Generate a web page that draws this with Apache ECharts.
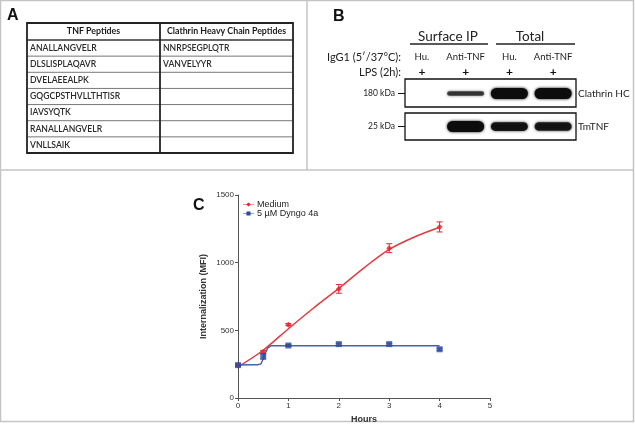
<!DOCTYPE html>
<html><head><meta charset="utf-8">
<script src="https://cdn.jsdelivr.net/npm/echarts@6/dist/echarts.min.js"></script>
<style>html,body{margin:0;padding:0;background:#fff}#c{width:635px;height:428px}</style>
</head><body><div id="c"></div>
<script>
// ---- Panel A data ----
const tableHeaders = ['TNF Peptides', 'Clathrin Heavy Chain Peptides'];
const tnfPeptides = ['ANALLANGVELR','DLSLISPLAQAVR','DVELAEEALPK','GQGCPSTHVLLTHTISR','IAVSYQTK','RANALLANGVELR','VNLLSAIK'];
const clathrinPeptides = ['NNRPSEGPLQTR','VANVELYYR'];
// ---- Panel B data ----
const laneLabels = ['Hu.','Anti-TNF','Hu.','Anti-TNF'];
const lpsLabels = ['+','+','+','+'];
const groupLabels = ['Surface IP','Total'];
const blotRows = ['Clathrin HC','TmTNF'];
const blotMarkers = ['180 kDa','25 kDa'];
const clathrinBand = [0, 0.3, 1, 1];
const tmtnfBand = [0, 1, 0.75, 0.72];
// ---- Panel C data ----
const hours = [0, 0.5, 1, 2, 3, 4];
const medium = [240, 340, 542, 806, 1107, 1264];
const mediumErr = [8, 12, 8, 32, 33, 37];
const dyngo = [243, 309, 388, 398, 398, 360];
const dyngoErr = [8, 22, 8, 8, 8, 8];
const mediumFitX = [0, 0.5, 1, 1.5, 2, 2.5, 3, 3.5, 4];
const mediumFitY = [230, 353, 512, 665, 810, 962, 1098, 1190, 1262];
const dyngoFitX = [0, 0.38, 0.45, 0.5, 0.55, 0.6, 0.66, 4];
const dyngoFitY = [244, 245, 252, 285, 340, 374, 386, 386];
const seriesNames = ['Medium', '5 µM Dyngo 4a'];

const RED = '#e3262b', BLUE = '#2e4aa0';
const chart = echarts.init(document.getElementById('c'));

// --- graphic elements: borders, table, blot frames ---
const g = [];
const border = '#c4c4c4';
g.push({type:'rect', shape:{x:0.5,y:0.5,width:633,height:421}, style:{fill:'none',stroke:border,lineWidth:1.5}});
g.push({type:'line', shape:{x1:307,y1:0,x2:307,y2:170}, style:{stroke:border,lineWidth:1.5}});
g.push({type:'line', shape:{x1:0,y1:170,x2:634,y2:170}, style:{stroke:border,lineWidth:1.5}});
const panelFont = 'Lato, "Open Sans", sans-serif';
[['A',7,8],['B',333,9],['C',193,198]].forEach(([t,x,y])=>{
  g.push({type:'text', x, y, style:{text:t, font:'bold 16px "Liberation Sans", Arial, sans-serif', fill:'#111'}});
});
// table
const tx0 = 27, tx1 = 160, tx2 = 293, ty0 = 23, ty1 = 40, ty2 = 153;
const nRows = tnfPeptides.length;
const rh = (ty2 - ty1) / nRows;
for (let i = 1; i < nRows; i++) {
  const y = ty1 + rh * i;
  g.push({type:'line', shape:{x1:tx0,y1:y,x2:tx2,y2:y}, style:{stroke:'#777',lineWidth:1}});
}
g.push({type:'line', shape:{x1:tx0,y1:ty1,x2:tx2,y2:ty1}, style:{stroke:'#333',lineWidth:1.3}});
g.push({type:'line', shape:{x1:tx1,y1:ty0,x2:tx1,y2:ty2}, style:{stroke:'#222',lineWidth:1.8}});
g.push({type:'rect', shape:{x:tx0,y:ty0,width:tx2-tx0,height:ty2-ty0}, style:{fill:'none',stroke:'#222',lineWidth:1.8}});
g.push({type:'text', x:(tx0+tx1)/2, y:(ty0+ty1)/2, style:{text:tableHeaders[0], font:'bold 8.8px '+panelFont, fill:'#1a1a1a', align:'center', verticalAlign:'middle'}});
g.push({type:'text', x:(tx1+tx2)/2, y:(ty0+ty1)/2, style:{text:tableHeaders[1], font:'bold 8.8px '+panelFont, fill:'#1a1a1a', align:'center', verticalAlign:'middle'}});
tnfPeptides.forEach((p,i)=>g.push({type:'text', x:tx0+3, y:ty1+rh*(i+0.5), style:{text:p, font:'600 8.6px '+panelFont, fill:'#2a2a2a', verticalAlign:'middle'}}));
clathrinPeptides.forEach((p,i)=>g.push({type:'text', x:tx1+3, y:ty1+rh*(i+0.5), style:{text:p, font:'600 8.6px '+panelFont, fill:'#2a2a2a', verticalAlign:'middle'}}));
// blot headers
[[groupLabels[0],448,410,488],[groupLabels[1],530,496,575]].forEach(([t,cx,a,b])=>{
  g.push({type:'text', x:cx, y:37, style:{text:t, font:'13.5px '+panelFont, fill:'#222', align:'center', verticalAlign:'middle'}});
  g.push({type:'line', shape:{x1:a,y1:44,x2:b,y2:44}, style:{stroke:'#222',lineWidth:1.3}});
});
g.push({type:'text', x:401, y:57, style:{text:'IgG1 (5′/37°C):', font:'11px '+panelFont, fill:'#222', align:'right', verticalAlign:'middle'}});
g.push({type:'text', x:401, y:72, style:{text:'LPS (2h):', font:'11px '+panelFont, fill:'#222', align:'right', verticalAlign:'middle'}});
g.push({type:'rect', shape:{x:405,y:79,width:171,height:28}, style:{fill:'none',stroke:'#111',lineWidth:1.3}});
g.push({type:'rect', shape:{x:405,y:113,width:171,height:27}, style:{fill:'none',stroke:'#111',lineWidth:1.3}});

// band data
const bandData = [];
clathrinBand.forEach((v,i)=>bandData.push([i,0,v]));
tmtnfBand.forEach((v,i)=>bandData.push([i,1,v]));

function errSeries(name, ys, es, color){
  return {
    type:'custom', name, xAxisIndex:0, yAxisIndex:0, z:4,
    data: hours.map((h,i)=>[h, ys[i], es[i]]),
    renderItem(params, api){
      const x = api.value(0), y = api.value(1), e = api.value(2);
      const t = api.coord([x, y+e]), b = api.coord([x, y-e]);
      const hw = 3, st = {stroke:color, lineWidth:1};
      return {type:'group', children:[
        {type:'line', shape:{x1:t[0],y1:t[1],x2:b[0],y2:b[1]}, style:st},
        {type:'line', shape:{x1:t[0]-hw,y1:t[1],x2:t[0]+hw,y2:t[1]}, style:st},
        {type:'line', shape:{x1:b[0]-hw,y1:b[1],x2:b[0]+hw,y2:b[1]}, style:st}
      ]};
    }
  };
}

const axisFont = '"Liberation Sans", Arial, sans-serif';
const iconRed = 'path://M0,2.5 L5,2.5 L8,0 L11,2.5 L16,2.5 L16,3.5 L11,3.5 L8,6 L5,3.5 L0,3.5 Z';
const iconBlue = 'path://M0,2.5 L5,2.5 L5,0 L11,0 L11,2.5 L16,2.5 L16,3.5 L11,3.5 L11,6 L5,6 L5,3.5 L0,3.5 Z';

chart.setOption({
  animation:false,
  graphic: g,
  legend: {
    orient:'vertical', left:238, top:195, itemWidth:11, itemHeight:5, itemGap:0,
    data:[{name:seriesNames[0], icon:iconRed},{name:seriesNames[1], icon:iconBlue}],
    textStyle:{fontSize:9, color:'#222', fontFamily:axisFont, padding:[0,0,0,-2]},
    selectedMode:false
  },
  grid: [
    {left:238, top:195, width:252, height:203},
    {left:400, top:77, width:175, height:66}
  ],
  xAxis: [
    {type:'value', gridIndex:0, min:0, max:5, interval:1,
     name:'Hours', nameLocation:'middle', nameGap:17,
     nameTextStyle:{fontSize:9, fontWeight:'bold', color:'#333', fontFamily:axisFont},
     axisLine:{lineStyle:{color:'#555', width:1}},
     axisTick:{length:3, lineStyle:{color:'#555'}},
     axisLabel:{fontSize:8, color:'#333', margin:4, fontFamily:axisFont},
     splitLine:{show:false}},
    {type:'category', gridIndex:1, data:laneLabels, position:'top',
     axisLine:{show:false}, axisTick:{show:false},
     axisLabel:{interval:0, margin:0,
       formatter:(v,i)=>'{a|'+v+'}\n{b|'+lpsLabels[i]+'}',
       rich:{a:{fontSize:9.5, lineHeight:20, color:'#222', fontFamily:panelFont},
             b:{fontSize:12, fontWeight:'bold', lineHeight:10, color:'#111', fontFamily:panelFont}}}}
  ],
  yAxis: [
    {type:'value', gridIndex:0, min:0, max:1500, interval:500,
     name:'Internalization (MFI)', nameLocation:'middle', nameGap:30, nameRotate:90,
     nameTextStyle:{fontSize:9, fontWeight:'bold', color:'#333', fontFamily:axisFont},
     axisLine:{show:true, lineStyle:{color:'#555', width:1}},
     axisTick:{show:true, length:3, lineStyle:{color:'#555'}},
     axisLabel:{fontSize:8, color:'#333', margin:4, fontFamily:axisFont, formatter:(v)=>String(v)},
     splitLine:{show:false}},
    {type:'category', gridIndex:1, data:blotMarkers, inverse:true, offset:-5,
     axisLine:{show:false},
     axisTick:{show:true, alignWithLabel:true, length:7, lineStyle:{color:'#111', width:1}},
     axisLabel:{fontSize:8.5, color:'#222', margin:10, fontFamily:panelFont}},
    {type:'category', gridIndex:1, data:blotRows, inverse:true, position:'right',
     axisLine:{show:false}, axisTick:{show:false},
     axisLabel:{fontSize:10, color:'#222', margin:3, fontFamily:panelFont}}
  ],
  series: [
    {type:'line', name:seriesNames[0], xAxisIndex:0, yAxisIndex:0,
     data: mediumFitX.map((x,i)=>[x, mediumFitY[i]]), smooth:0.3,
     showSymbol:false, symbol:'none', color:RED, lineStyle:{color:'#e8383d', width:1.5}, z:3},
    {type:'line', name:seriesNames[1], xAxisIndex:0, yAxisIndex:0,
     data: dyngoFitX.map((x,i)=>[x, dyngoFitY[i]]), smooth:0.4, smoothMonotone:'x',
     showSymbol:false, symbol:'none', color:BLUE, lineStyle:{color:'#4862aa', width:1.5}, z:3},
    errSeries('medium-err', medium, mediumErr, RED),
    errSeries('dyngo-err', dyngo, dyngoErr, BLUE),
    {type:'scatter', name:'medium-pts', xAxisIndex:0, yAxisIndex:0, symbol:'diamond', symbolSize:6,
     itemStyle:{color:RED}, data: hours.map((h,i)=>[h, medium[i]]), z:5},
    {type:'scatter', name:'dyngo-pts', xAxisIndex:0, yAxisIndex:0, symbol:'rect', symbolSize:6,
     itemStyle:{color:BLUE}, data: hours.map((h,i)=>[h, dyngo[i]]), z:5},
    {type:'custom', name:'bands', xAxisIndex:1, yAxisIndex:1, data: bandData,
     renderItem(params, api){
       const v = api.value(2);
       if (!v) return null;
       const c = api.coord([api.value(0), api.value(1)]);
       const h = 2 + 9*v, w = 37;
       const col = 'rgba(12,12,12,' + (0.6 + 0.4*v) + ')';
       return {type:'rect', shape:{x:c[0]-w/2, y:c[1]-h/2, width:w, height:h, r:h/2},
               style:{fill:col, shadowBlur:3, shadowColor:col}};
     }}
  ]
});
</script></body></html>
